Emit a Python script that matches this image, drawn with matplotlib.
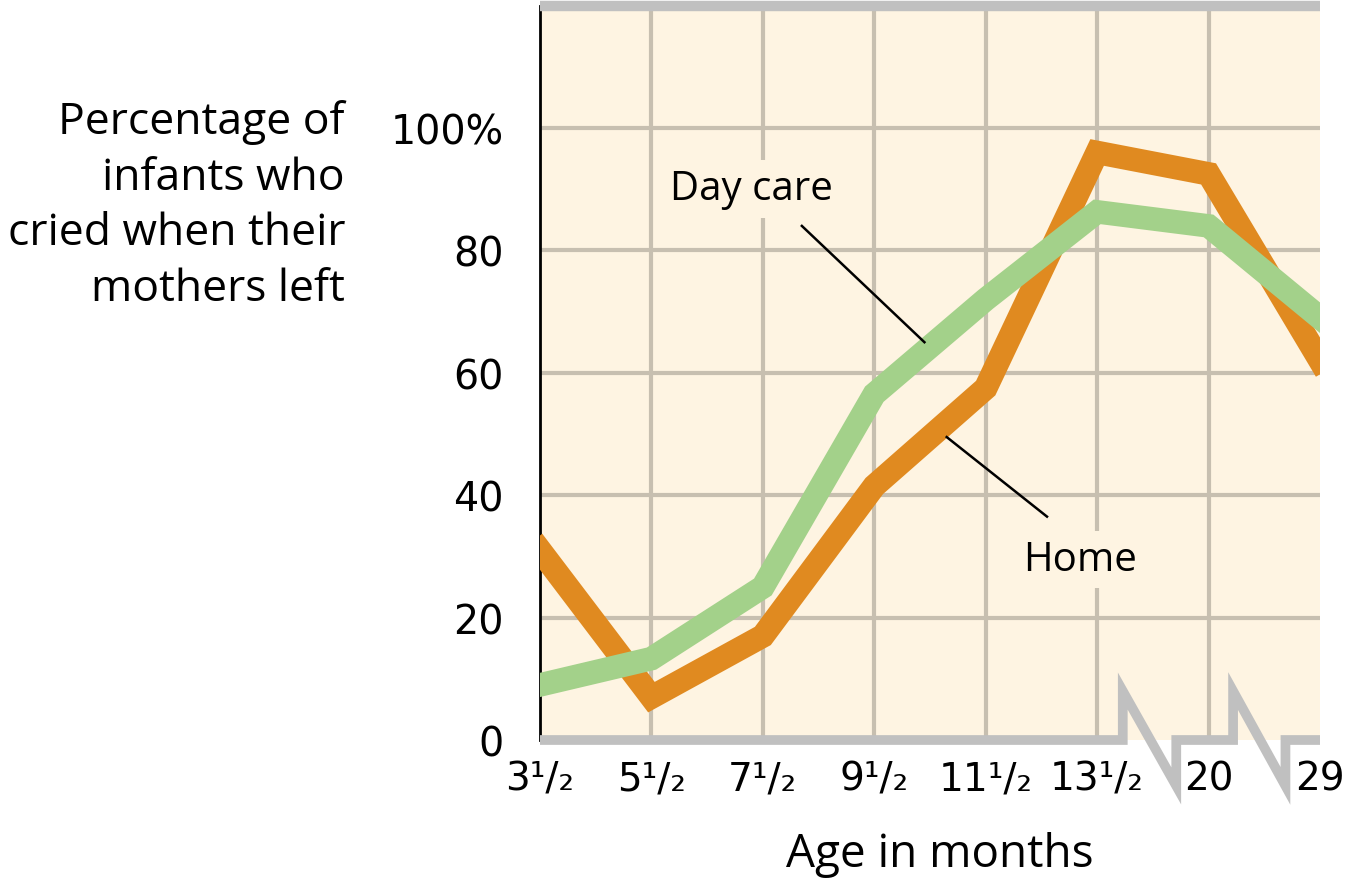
import numpy as np
import matplotlib.pyplot as plt

# ages in months (evenly spaced categories, axis broken after 13 1/2)
ages = ['3¹/₂', '5¹/₂', '7¹/₂', '9¹/₂', '11¹/₂', '13¹/₂', '20', '29']
home = [31, 7, 17, 41.5, 57.5, 96, 92.5, 62]
day_care = [9, 13.3, 25, 56.5, 72, 86.3, 84, 69]
yticks = [0, 20, 40, 60, 80, 100]
ytick_labels = ['0', '20', '40', '60', '80', '100%']

bg = '#fef4e2'
grid_c = '#c7bfb0'
bar_c = '#c0c0c0'
orange = '#e08a20'
green = '#a3d18a'
txt_font = ['Open Sans', 'DejaVu Sans']

fig = plt.figure(figsize=(13.5, 8.79), dpi=100)
ax = fig.add_axes([540 / 1350, 1 - 741 / 879, 780 / 1350, (741 - 6.6) / 879])
ax.set_facecolor(bg)

x = np.arange(len(ages))
ax.set_xlim(0, 7)
ax.set_ylim(0, 120)

# grid
for v in x[1:7]:
    ax.axvline(v, color=grid_c, lw=3, zorder=1)
for v in yticks[1:]:
    ax.axhline(v, color=grid_c, lw=3, zorder=1)

ax.plot(x, home, color=orange, lw=17, solid_joinstyle='miter', zorder=3)
ax.plot(x, day_care, color=green, lw=17, solid_joinstyle='miter', zorder=4)

# spines
for s in ['right', 'bottom']:
    ax.spines[s].set_visible(False)
ax.spines['left'].set_color('black')
ax.spines['left'].set_linewidth(2)
ax.spines['top'].set_color(bar_c)
ax.spines['top'].set_linewidth(7.5)
ax.spines['top'].set_capstyle('butt')

# bottom bar with axis-break zigzags
bx, by = [0], [0]
for a, b in [(5.23, 5.71), (6.22, 6.69)]:
    bx += [a, a, b, b]
    by += [0, 8, -7.5, 0]
bx.append(7)
by.append(0)
ax.plot(bx, by, color=bar_c, lw=7, solid_joinstyle='miter', solid_capstyle='butt',
        clip_on=False, zorder=5)

ax.set_xticks(x)
ax.set_xticklabels(ages, fontsize=28, family='DejaVu Sans')
ax.set_yticks(yticks)
ax.set_yticklabels(ytick_labels, fontsize=28.5, family='DejaVu Sans')
ax.tick_params(axis='both', length=0)
ax.tick_params(axis='y', pad=26)
ax.tick_params(axis='x', pad=14)

# labels with leader lines
ax.text(1.9, 90, 'Day care', fontsize=29, family=txt_font, ha='center', va='center',
        bbox=dict(facecolor=bg, edgecolor='none', pad=6), zorder=6)
ax.plot([2.35, 3.45], [84, 65], color='black', lw=1.8, zorder=5)
ax.text(4.85, 29.5, 'Home', fontsize=29, family=txt_font, ha='center', va='center',
        bbox=dict(facecolor=bg, edgecolor='none', pad=6), zorder=6)
ax.plot([4.55, 3.65], [36.5, 49.5], color='black', lw=1.8, zorder=5)

fig.text(345 / 1350, 1 - 206 / 879,
         'Percentage of\ninfants who\ncried when their\nmothers left',
         fontsize=32, family=txt_font, ha='right', va='center', linespacing=1.33)
fig.text(940 / 1350, 1 - 855 / 879, 'Age in months', fontsize=33, family=txt_font,
         ha='center', va='center')

fig.savefig('out.png', dpi=100)
